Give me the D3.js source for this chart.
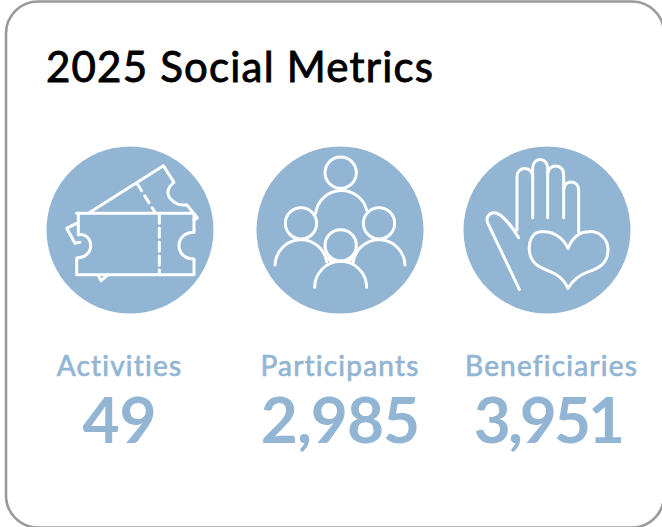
<!DOCTYPE html>
<html>
<head>
<meta charset="utf-8">
<script src="https://cdnjs.cloudflare.com/ajax/libs/d3/7.8.5/d3.min.js"></script>
<style>
html, body { margin: 0; padding: 0; background: #fff; overflow: hidden; }
text { font-family: Lato, "Open Sans", sans-serif; font-variant-ligatures: none; }
</style>
</head>
<body>
<svg id="chart" width="662" height="527"></svg>
<script>
var title = "2025 Social Metrics";
var categories = ["Activities", "Participants", "Beneficiaries"];
var values = [49, 2985, 3951];
var icons = ["ticket", "people", "hand"];

var blue = "#92b5d3";
var svg = d3.select("#chart");

// card outline, runs off the right and bottom edge a little
svg.append("rect")
	.attr("x", 6).attr("y", 1.5)
	.attr("width", 658).attr("height", 526)
	.attr("rx", 32).attr("ry", 32)
	.attr("fill", "#fff")
	.attr("stroke", "#9a9a9a")
	.attr("stroke-width", 2.6);

// Lato has no medium weight here, so regular gets a thin stroke
svg.append("text")
	.attr("x", 46).attr("y", 82)
	.attr("font-size", 42)
	.attr("letter-spacing", 1.2)
	.attr("fill", "#000")
	.attr("stroke", "#000").attr("stroke-width", 0.9)
	.text(title);

var circleX = d3.scaleOrdinal().domain(categories).range([130, 340, 547]);
var labelX = d3.scaleOrdinal().domain(categories).range([119.5, 340, 551.5]);
var valueX = d3.scaleOrdinal().domain(categories).range([119.5, 340, 548]);
var fmt = d3.format(",");

var circleY = 230, radius = 83.5;

// icon outlines, drawn at 3x around the circle centre
var iconDraw = {
	ticket: function(g) {
		g.append("path").attr("d", "M140 248 H492 V305 C462 305 447 325 447 345 C447 365 462 385 492 385 V432 H140 V382 C165 382 182 365 182 345 C182 322 165 308 145 312 V248");
		g.append("path").attr("d", "M180 245 L400 105 L432 155 C412 170 408 190 422 205 C436 220 455 225 470 222 L502 262 L492 268");
		g.append("path").attr("d", "M140 278 L110 293 L135 338 L150 335");
		g.append("path").attr("d", "M205 435 L213 450 L235 432");
		g.append("path").attr("d", "M388 250 V432").attr("stroke-dasharray", "28 14");
		g.append("path").attr("d", "M322 160 L375 245").attr("stroke-dasharray", "24 18");
	},
	people: function(g) {
		[[287, 113], [168, 265], [402, 265], [287, 331]].forEach(function(c) {
			g.append("circle").attr("cx", c[0]).attr("cy", c[1]).attr("r", 47);
		});
		g.append("path").attr("d", "M212 235 A78 78 0 0 1 365 225");
		g.append("path").attr("d", "M90 390 A78 78 0 0 1 245 380");
		g.append("path").attr("d", "M325 380 A78 78 0 0 1 480 390");
		g.append("path").attr("d", "M209 457 A78 78 0 0 1 365 457");
		g.append("path").attr("d", "M245 368 L258 378 M325 368 L312 378");
	},
	hand: function(g) {
		g.append("path").attr("d", "M192 463 L100 270 C88 250 100 232 118 233 C140 236 170 275 190 308");
		g.append("path").attr("d", "M185 285 V125 C185 92 230 92 232 125");
		g.append("path").attr("d", "M232 248 V100 C232 65 277 65 277 100 V248");
		g.append("path").attr("d", "M277 118 C277 85 325 85 325 118 V248");
		g.append("path").attr("d", "M325 165 C325 133 370 133 370 165 V292");
		g.append("path").attr("d", "M338 340 C320 300 285 288 255 290 C230 292 220 320 222 345 C225 390 260 400 285 410 C310 420 330 440 338 460 C350 440 370 420 400 410 C430 400 458 385 458 345 C458 310 430 288 400 290 C370 290 350 310 338 340 Z");
	}
};
// where the circle centre falls in each icon's 3x drawing
var iconCentre = { ticket: [300, 298], people: [285, 285], hand: [275, 285] };

categories.forEach(function(cat, i) {
	svg.append("circle")
		.attr("cx", circleX(cat)).attr("cy", circleY).attr("r", radius)
		.attr("fill", blue);

	var c = iconCentre[icons[i]];
	var g = svg.append("g")
		.attr("transform", "translate(" + circleX(cat) + "," + circleY + ") scale(" + (1 / 3) + ") translate(" + (-c[0]) + "," + (-c[1]) + ")")
		.attr("fill", "none")
		.attr("stroke", "#fff")
		.attr("stroke-width", 9)
		.attr("stroke-linecap", "round")
		.attr("stroke-linejoin", "round");
	iconDraw[icons[i]](g);

	svg.append("text")
		.attr("x", labelX(cat)).attr("y", 376)
		.attr("text-anchor", "middle")
		.attr("font-size", 28)
		.attr("letter-spacing", 1.2)
		.attr("fill", blue)
		.attr("stroke", blue).attr("stroke-width", 0.7)
		.text(cat);

	svg.append("text")
		.attr("x", valueX(cat)).attr("y", 443)
		.attr("text-anchor", "middle")
		.attr("font-size", 64).attr("font-weight", 700)
		.attr("letter-spacing", values[i] > 3000 ? -3 : (values[i] > 100 ? -1 : 0))
		.attr("fill", blue)
		.text(fmt(values[i]));
});
</script>
</body>
</html>
